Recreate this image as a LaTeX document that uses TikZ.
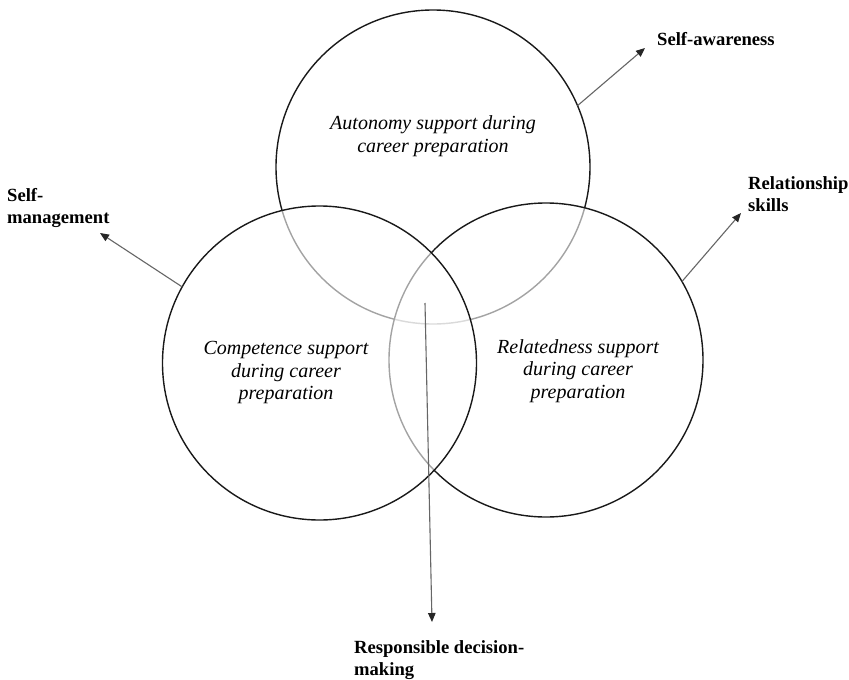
\documentclass[tikz,border=0pt]{standalone}
\usepackage{fontspec}
\setmainfont{Liberation Serif}
\usetikzlibrary{arrows.meta}
\begin{document}
\begin{tikzpicture}[x=1pt,y=-1pt,
  venn/.style={circle,draw=black!90,line width=1.4pt,minimum size=314pt,inner sep=0pt,outer sep=0pt},
  veil/.style={fill=white,fill opacity=0.6},
  lab/.style={font=\fontsize{18.6}{21.5}\selectfont\bfseries,inner sep=0pt,align=left},
  itl/.style={font=\fontsize{20}{22.5}\selectfont\itshape,inner sep=0pt,align=center},
  link/.style={draw=black!60,line width=1.1pt,-{Triangle[length=9pt,width=7.5pt,color=black!85]}}
]
\fill[white] (0,0) rectangle (849,680);
\useasboundingbox (0,0) rectangle (849,680);

% circles (top, right, left) with white veils so covered arcs turn grey
\node[venn] (A) at (433,167) {};
\node[venn,veil] (R) at (546,360) {};
\node[venn,veil] (C) at (319.5,363) {};

% circle texts
\node[itl] (At) at (433,136) {Autonomy support during\\career preparation};
\node[itl] (Ct) at (286,373) {Competence support\\during career\\preparation};
\node[itl] (Rt) at (578,371) {Relatedness support\\during career\\preparation};

% outer labels
\node[lab,anchor=base west] (SA) at (657,45) {Self-awareness};
\node[lab,anchor=west] (SM) at (7,208) {Self-\\management};
\node[lab,anchor=west] (RS) at (748,194) {Relationship\\skills};
\node[lab,anchor=west] (RD) at (354,660) {Responsible decision-\\making};

% arrow end points
\coordinate (saTip) at (645,48);
\coordinate (smTip) at (100,233);
\coordinate (rsTip) at (741,213);
\coordinate (rdStart) at (425,303);
\coordinate (rdTip) at (432,622);

\draw[link] (A.23.8) -- (saTip);
\draw[link] (C.151.4) -- (smTip);
\draw[link] (R.30.9) -- (rsTip);
\draw[link] (rdStart) -- (rdTip);
\end{tikzpicture}
\end{document}
